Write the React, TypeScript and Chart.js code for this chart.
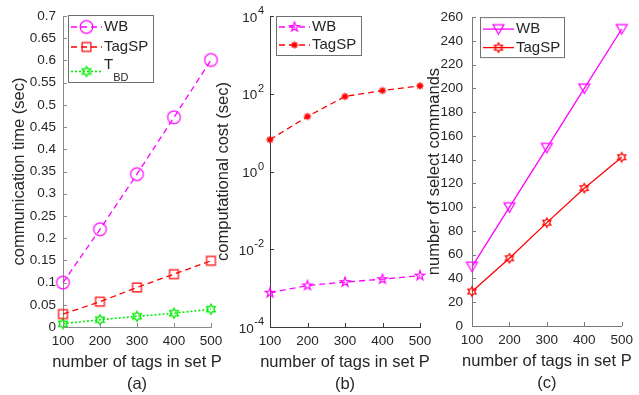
import React, { useEffect, useRef } from 'react';
import { Chart, registerables } from 'chart.js';

Chart.register(...registerables);

// ---------- data ----------
const tagCounts = ['100', '200', '300', '400', '500'];

// (a) communication time (sec)
const commWB = [0.1, 0.22, 0.344, 0.472, 0.601];
const commTagSP = [0.029, 0.057, 0.089, 0.119, 0.149];
const commTBD = [0.0074, 0.0164, 0.024, 0.031, 0.04];

// (b) computational cost (sec), log scale
const costWB = [7.6e-4, 1.17e-3, 1.43e-3, 1.7e-3, 2.1e-3];
const costTagSP = [6.6, 26, 85, 121, 160];
const costTickValues = [1e-4, 1e-2, 1, 1e2, 1e4];

// (c) number of select commands
const selectWB = [50, 100, 150, 200, 250];
const selectTagSP = [29, 57, 87, 116, 142];

const xTitle = 'number of tags in set P';
const panelTags = ['(a)', '(b)', '(c)'];

// ---------- style ----------
const W = 639;
const H = 395;
const FONT = "'Liberation Sans', Arial, Helvetica, sans-serif";
const TEXT = '#262626';
const MAG = '#ff00ff';
const RED = '#ff0000';
const GREEN = '#00ee00';

Chart.defaults.font.family = FONT;

function starPath(ctx: CanvasRenderingContext2D, cx: number, cy: number, n: number, ro: number, ri: number) {
  for (let k = 0; k < 2 * n; k++) {
    const r = k % 2 === 0 ? ro : ri;
    const a = -Math.PI / 2 + (k * Math.PI) / n;
    const px = cx + r * Math.cos(a);
    const py = cy + r * Math.sin(a);
    if (k === 0) ctx.moveTo(px, py);
    else ctx.lineTo(px, py);
  }
  ctx.closePath();
}

function makeMarker(kind: string, r: number, color: string, lw: number) {
  const pad = Math.ceil(lw) + 1;
  const size = Math.ceil(2 * r + 2 * pad);
  const c = document.createElement('canvas');
  c.width = size;
  c.height = size;
  const ctx = c.getContext('2d')!;
  ctx.strokeStyle = color;
  ctx.lineWidth = lw;
  const cx = size / 2;
  const cy = size / 2;
  ctx.beginPath();
  if (kind === 'circle') ctx.arc(cx, cy, r, 0, Math.PI * 2);
  else if (kind === 'square') ctx.rect(cx - r, cy - r, 2 * r, 2 * r);
  else if (kind === 'hexagram') starPath(ctx, cx, cy, 6, r, r * 0.577);
  else if (kind === 'pentagram') starPath(ctx, cx, cy, 5, r, r * 0.4);
  else if (kind === 'asterisk') {
    for (let k = 0; k < 4; k++) {
      const a = (k * Math.PI) / 4;
      ctx.moveTo(cx + r * Math.cos(a), cy + r * Math.sin(a));
      ctx.lineTo(cx - r * Math.cos(a), cy - r * Math.sin(a));
    }
  } else if (kind === 'triangleDown') {
    ctx.moveTo(cx - r, cy - r * 0.8);
    ctx.lineTo(cx + r, cy - r * 0.8);
    ctx.lineTo(cx, cy + r * 0.9);
    ctx.closePath();
  }
  ctx.stroke();
  return c;
}

type LegendItem = { label: string; sub?: string };
type LegendBox = { dx: number; dy: number; w: number; h: number; rows: number[] };

function legendPlugin(box: LegendBox, items: LegendItem[]) {
  return {
    id: 'matlabLegend',
    afterDraw(chart: any) {
      const { ctx, chartArea } = chart;
      const L = chartArea.left + box.dx;
      const T = chartArea.top + box.dy;
      ctx.save();
      ctx.fillStyle = '#ffffff';
      ctx.fillRect(L, T, box.w, box.h);
      ctx.strokeStyle = '#707070';
      ctx.lineWidth = 1;
      ctx.setLineDash([]);
      ctx.strokeRect(L + 0.5, T + 0.5, box.w, box.h);
      items.forEach((it, i) => {
        const ds = chart.data.datasets[i];
        const y = T + box.rows[i];
        ctx.save();
        ctx.setLineDash(ds.borderDash || []);
        ctx.strokeStyle = ds.borderColor;
        ctx.lineWidth = ds.borderWidth;
        ctx.beginPath();
        ctx.moveTo(L + 3, y);
        ctx.lineTo(L + 34, y);
        ctx.stroke();
        ctx.restore();
        const m = ds.pointStyle as HTMLCanvasElement;
        ctx.drawImage(m, L + 18.5 - m.width / 2, y - m.height / 2);
        ctx.fillStyle = TEXT;
        ctx.textBaseline = 'middle';
        ctx.textAlign = 'left';
        ctx.font = `15px ${FONT}`;
        if (it.sub) {
          ctx.fillText(it.label, L + 36, y - 6.5);
          const tw = ctx.measureText(it.label).width;
          ctx.font = `11px ${FONT}`;
          ctx.fillText(it.sub, L + 36 + tw, y + 6);
        } else {
          ctx.fillText(it.label, L + 36, y);
        }
      });
      ctx.restore();
    },
  };
}

// ticks drawn inward (MATLAB style) plus the x-axis title lines, which may be wider than the axis
function axisDecorPlugin(color: string, tag: string) {
  return {
    id: 'axisDecor',
    afterDraw(chart: any) {
      const { ctx, chartArea: a } = chart;
      const xs = chart.scales.x;
      const ys = chart.scales.y;
      ctx.save();
      ctx.strokeStyle = color;
      ctx.lineWidth = 1;
      ctx.beginPath();
      xs.ticks.forEach((_t: any, i: number) => {
        const px = Math.round(xs.getPixelForTick(i)) + 0.5;
        ctx.moveTo(px, a.bottom);
        ctx.lineTo(px, a.bottom - 4);
      });
      ys.ticks.forEach((t: any) => {
        const py = Math.round(ys.getPixelForValue(t.value)) + 0.5;
        ctx.moveTo(a.left, py);
        ctx.lineTo(a.left + 4, py);
      });
      ctx.stroke();
      const cx = (a.left + a.right) / 2;
      ctx.fillStyle = TEXT;
      ctx.textAlign = 'center';
      ctx.textBaseline = 'middle';
      ctx.font = `16.5px ${FONT}`;
      ctx.fillText(xTitle, cx, a.bottom + 35);
      ctx.fillText(tag, cx, a.bottom + 57);
      ctx.restore();
    },
  };
}

// log-axis tick labels as 10 with a raised exponent
function powerTicksPlugin(values: number[]) {
  return {
    id: 'powerTicks',
    afterDraw(chart: any) {
      const { ctx, chartArea: a } = chart;
      const ys = chart.scales.y;
      ctx.save();
      ctx.fillStyle = TEXT;
      ctx.textAlign = 'right';
      ctx.textBaseline = 'middle';
      values.forEach((v) => {
        const y = ys.getPixelForValue(v);
        const exp = String(Math.round(Math.log10(v)));
        const ex = a.left - 6;
        ctx.font = `11px ${FONT}`;
        ctx.fillText(exp, ex, y - 5);
        const ew = ctx.measureText(exp).width;
        ctx.font = `13.5px ${FONT}`;
        ctx.fillText('10', ex - ew - 0.5, y + 2);
      });
      ctx.restore();
    },
  };
}

function xScale(axisColor: string, height: number) {
  return {
    type: 'category',
    offset: false,
    grid: { display: false, drawTicks: false },
    border: { display: true, color: axisColor, width: 1 },
    ticks: { color: TEXT, font: { size: 13.5 }, padding: 6, autoSkip: false, maxRotation: 0 },
    title: { display: false },
    afterFit: (s: any) => {
      s.height = height;
    },
  };
}

function lineDs(label: string, data: number[], color: string, dash: number[], marker: HTMLCanvasElement, width = 1.3) {
  return {
    label,
    data,
    borderColor: color,
    backgroundColor: color,
    borderWidth: width,
    borderDash: dash,
    pointStyle: marker,
    pointRadius: 5,
    pointHoverRadius: 5,
    tension: 0,
    fill: false,
    clip: false,
  };
}

function configA(): any {
  const axis = '#8a8a8a';
  return {
    type: 'line',
    data: {
      labels: tagCounts,
      datasets: [
        lineDs('WB', commWB, MAG, [6, 4], makeMarker('circle', 6.3, MAG, 1.2)),
        lineDs('TagSP', commTagSP, RED, [6, 4], makeMarker('square', 4.4, RED, 1.2)),
        lineDs('TBD', commTBD, GREEN, [2, 2], makeMarker('hexagram', 5, GREEN, 1.3), 1.6),
      ],
    },
    options: {
      responsive: false,
      animation: false,
      events: [],
      layout: { padding: { left: 0, top: 16, right: W - 211, bottom: 0 } },
      plugins: { legend: { display: false }, tooltip: { enabled: false } },
      scales: {
        x: xScale(axis, 68),
        y: {
          type: 'linear',
          min: 0,
          max: 0.7,
          grid: { display: false, drawTicks: false },
          border: { display: true, color: axis, width: 1 },
          ticks: {
            stepSize: 0.05,
            autoSkip: false,
            maxTicksLimit: 100,
            color: TEXT,
            font: { size: 13.5 },
            padding: 7,
            callback: (v: any) => String(Number(Number(v).toFixed(2))),
          },
          title: { display: true, text: 'communication time (sec)', color: TEXT, font: { size: 16.5 }, padding: { top: 10, bottom: 0 } },
          afterFit: (s: any) => {
            s.width = 63;
          },
        },
      },
    },
    plugins: [
      axisDecorPlugin(axis, panelTags[0]),
      legendPlugin({ dx: 5, dy: -1, w: 85, h: 67, rows: [12, 32, 56.5] }, [
        { label: 'WB' },
        { label: 'TagSP' },
        { label: 'T', sub: 'BD' },
      ]),
    ],
  };
}

function configB(): any {
  const axis = '#3a3a3a';
  return {
    type: 'line',
    data: {
      labels: tagCounts,
      datasets: [
        lineDs('WB', costWB, MAG, [6, 4], makeMarker('pentagram', 5, MAG, 1.2)),
        lineDs('TagSP', costTagSP, RED, [6, 4], makeMarker('asterisk', 3.6, RED, 1.5)),
      ],
    },
    options: {
      responsive: false,
      animation: false,
      events: [],
      layout: { padding: { left: 214, top: 16, right: W - 420, bottom: 0 } },
      plugins: { legend: { display: false }, tooltip: { enabled: false } },
      scales: {
        x: xScale(axis, 68),
        y: {
          type: 'logarithmic',
          min: 1e-4,
          max: 1e4,
          grid: { display: false, drawTicks: false },
          border: { display: true, color: axis, width: 1 },
          afterBuildTicks: (s: any) => {
            s.ticks = costTickValues.map((v) => ({ value: v, major: false }));
          },
          ticks: { display: false },
          title: { display: true, text: 'computational cost (sec)', color: TEXT, font: { size: 16.5 }, padding: { top: 0, bottom: 0 } },
          afterFit: (s: any) => {
            s.width = 56;
          },
        },
      },
    },
    plugins: [
      axisDecorPlugin(axis, panelTags[1]),
      powerTicksPlugin(costTickValues),
      legendPlugin({ dx: 6, dy: 0, w: 85, h: 39, rows: [11, 29] }, [{ label: 'WB' }, { label: 'TagSP' }]),
    ],
  };
}

function configC(): any {
  const axis = '#7a7a7a';
  return {
    type: 'line',
    data: {
      labels: tagCounts,
      datasets: [
        lineDs('WB', selectWB, MAG, [], makeMarker('triangleDown', 5.5, MAG, 1.2)),
        lineDs('TagSP', selectTagSP, RED, [], makeMarker('hexagram', 4.6, RED, 1.3)),
      ],
    },
    options: {
      responsive: false,
      animation: false,
      events: [],
      layout: { padding: { left: 425, top: 16, right: W - 626, bottom: 0 } },
      plugins: { legend: { display: false }, tooltip: { enabled: false } },
      scales: {
        x: xScale(axis, 69),
        y: {
          type: 'linear',
          min: 0,
          max: 260,
          grid: { display: false, drawTicks: false },
          border: { display: true, color: axis, width: 1 },
          ticks: {
            stepSize: 20,
            autoSkip: false,
            maxTicksLimit: 100,
            color: TEXT,
            font: { size: 13.5 },
            padding: 9,
            callback: (v: any) => String(v),
          },
          title: { display: true, text: 'number of select commands', color: TEXT, font: { size: 16.5 }, padding: { top: 0, bottom: 0 } },
          afterFit: (s: any) => {
            s.width = 47;
          },
        },
      },
    },
    plugins: [
      axisDecorPlugin(axis, panelTags[2]),
      legendPlugin({ dx: 8, dy: 0, w: 84, h: 40, rows: [12, 30.5] }, [{ label: 'WB' }, { label: 'TagSP' }]),
    ],
  };
}

export default function App() {
  const refA = useRef<HTMLCanvasElement>(null);
  const refB = useRef<HTMLCanvasElement>(null);
  const refC = useRef<HTMLCanvasElement>(null);

  useEffect(() => {
    const charts = [
      new Chart(refA.current!, configA()),
      new Chart(refB.current!, configB()),
      new Chart(refC.current!, configC()),
    ];
    return () => charts.forEach((c) => c.destroy());
  }, []);

  const cs: React.CSSProperties = { position: 'absolute', left: 0, top: 0, width: W, height: H };
  return (
    <div style={{ position: 'absolute', left: 0, top: 0, width: W, height: H, background: '#ffffff' }}>
      <canvas ref={refA} width={W} height={H} style={cs} />
      <canvas ref={refB} width={W} height={H} style={cs} />
      <canvas ref={refC} width={W} height={H} style={cs} />
    </div>
  );
}
